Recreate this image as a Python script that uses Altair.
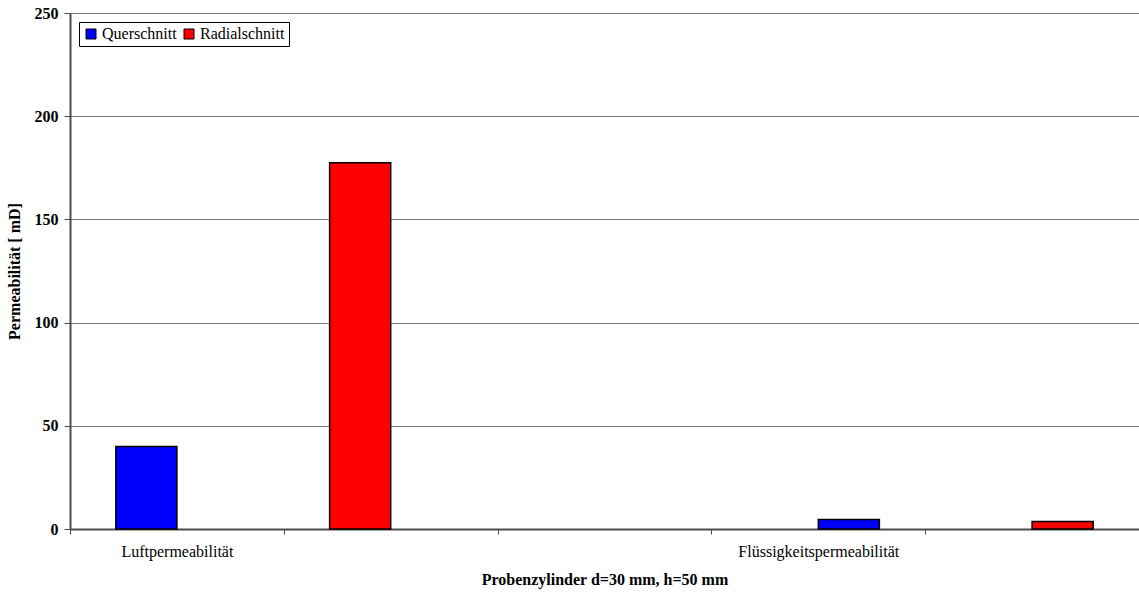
import altair as alt
import pandas as pd

# Category slots along the x axis (Excel-style layout with empty slots)
slots = ["L1", "L2", "X", "F1", "F2"]
slot_labels = {"L1": "Luftpermeabilität", "F1": "Flüssigkeitspermeabilität"}

# Measured permeabilities [mD]
bar_slots = ["L1", "L2", "F1", "F2"]
bar_series = ["Querschnitt", "Radialschnitt", "Querschnitt", "Radialschnitt"]
bar_values = [40.0, 177.5, 4.6, 3.6]
# cluster position of each bar inside its slot
bar_pos = ["a", "a", "b", "b"]

series_names = ["Querschnitt", "Radialschnitt"]
series_colors = ["#0000FF", "#FF0000"]

df = pd.DataFrame({
    "slot": bar_slots,
    "Serie": bar_series,
    "Permeabilität": bar_values,
    "pos": bar_pos,
})

label_expr = "datum.value == 'L1' ? '%s' : datum.value == 'F1' ? '%s' : ''" % (
    slot_labels["L1"], slot_labels["F1"])

font = "Liberation Serif"
fs = 16

chart = alt.Chart(df).mark_bar(stroke="black", strokeWidth=1.5).encode(
    x=alt.X(
        "slot:N",
        scale=alt.Scale(domain=slots, paddingInner=0, paddingOuter=0),
        axis=alt.Axis(
            title="Probenzylinder d=30 mm, h=50 mm",
            labelExpr=label_expr,
            labelAngle=0,
            tickBand="extent",
            tickSize=5,
            labelPadding=9,
            labelFont=font,
            labelFontSize=fs,
            labelColor="black",
            titleFont=font,
            titleFontSize=fs,
            titleFontWeight="bold",
            titleColor="black",
            titlePadding=12,
            domainColor="#4d4d4d",
            domainWidth=2,
            tickColor="#4d4d4d",
            grid=False,
        ),
    ),
    xOffset=alt.XOffset(
        "pos:N",
        scale=alt.Scale(domain=["a", "b"], paddingInner=0, paddingOuter=0.75),
    ),
    y=alt.Y(
        "Permeabilität:Q",
        scale=alt.Scale(domain=[0, 250], nice=False),
        axis=alt.Axis(
            title="Permeabilität [ mD]",
            values=[0, 50, 100, 150, 200, 250],
            tickSize=6,
            labelPadding=6,
            labelFont=font,
            labelFontSize=fs,
            labelFontWeight="bold",
            labelColor="black",
            titleFont=font,
            titleFontSize=fs,
            titleFontWeight="bold",
            titleColor="black",
            titlePadding=12,
            domainColor="#4d4d4d",
            domainWidth=2,
            tickColor="#4d4d4d",
            gridColor="#808080",
            gridWidth=1,
        ),
    ),
    color=alt.Color(
        "Serie:N",
        scale=alt.Scale(domain=series_names, range=series_colors),
        legend=alt.Legend(
            title=None,
            orient="none",
            legendX=9,
            legendY=9,
            direction="horizontal",
            symbolType="square",
            symbolSize=100,
            symbolStrokeColor="black",
            symbolStrokeWidth=1,
            labelFont=font,
            labelFontSize=fs,
            labelColor="black",
            columnPadding=4,
            labelOffset=3,
            padding=4,
            strokeColor="black",
            fillColor="white",
        ),
    ),
).properties(
    width=1069,
    height=516,
    padding={"left": 70, "top": 13, "right": 0, "bottom": 65},
    autosize=alt.AutoSizeParams(type="none"),
).configure_view(
    stroke=None,
).configure(
    background="white",
)

chart.save("out.html", embed_options={"renderer": "svg", "actions": False})
